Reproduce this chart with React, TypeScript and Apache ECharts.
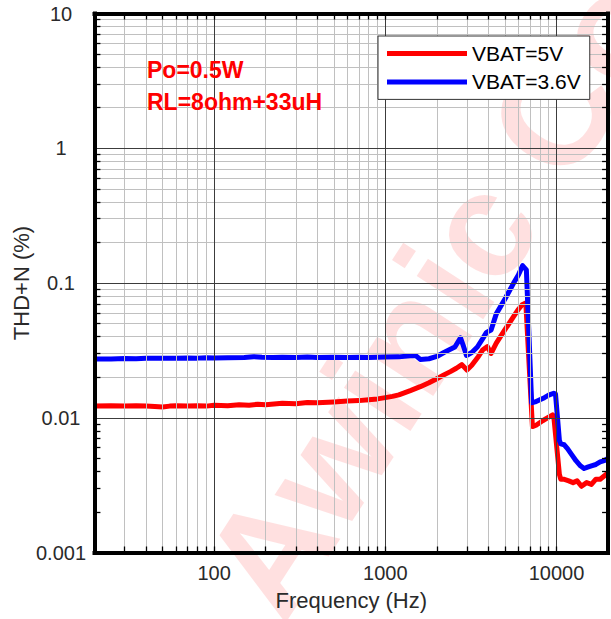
import { useEffect, useRef } from 'react';
import * as echarts from 'echarts';

// THD+N vs frequency, VBAT = 5 V
const freqVbat5 = [
  20, 25, 30, 35, 40, 45, 50, 55, 60, 70, 80, 90, 100, 120, 140, 160, 180, 200, 250, 300, 350, 400,
  500, 600, 700, 800, 900, 1000, 1100, 1200, 1400, 1600, 1800, 2000, 2200, 2400, 2600, 2800, 3000,
  3200, 3500, 3700, 3950, 4150, 4450, 5000, 5600, 6000, 6300, 6620, 7236, 7600, 8300, 9000, 9500,
  9640, 10400, 10600, 11000, 11800, 12500, 13200, 14000, 15000, 16000, 17000, 18000, 19000, 20000,
];
const thdVbat5 = [
  0.0122, 0.0123, 0.0122, 0.0123, 0.0122, 0.0121, 0.012, 0.0122, 0.0123, 0.0122, 0.0123, 0.0122,
  0.0124, 0.0123, 0.0125, 0.0124, 0.0126, 0.0125, 0.0128, 0.0127, 0.013, 0.0129, 0.0131, 0.0133,
  0.0134, 0.0136, 0.0138, 0.0141, 0.0144, 0.0148, 0.0159, 0.017, 0.0182, 0.0195, 0.0208, 0.022,
  0.0233, 0.0248, 0.0226, 0.0245, 0.0285, 0.0318, 0.0337, 0.03, 0.0358, 0.045, 0.056, 0.0639,
  0.069, 0.0712, 0.0086, 0.0088, 0.0095, 0.0101, 0.0105, 0.0103, 0.0038, 0.0035, 0.0035, 0.0034,
  0.0033, 0.0034, 0.0031, 0.0033, 0.0032, 0.0035, 0.0035, 0.0037, 0.0039,
];

// THD+N vs frequency, VBAT = 3.6 V
const freqVbat36 = [
  20, 25, 30, 35, 40, 50, 60, 70, 80, 90, 100, 120, 150, 170, 190, 220, 250, 300, 350, 400, 500,
  600, 700, 800, 900, 1000, 1200, 1400, 1500, 1600, 1800, 2000, 2200, 2350, 2550, 2750, 2850, 2980,
  3200, 3450, 3700, 3900, 4150, 4450, 5000, 5600, 6000, 6335, 6670, 7160, 7500, 8000, 8500, 9000,
  9640, 9870, 10400, 10600, 11100, 11600, 12300, 13000, 13800, 14500, 15200, 16000, 17000, 18000,
  19000, 20000,
];
const thdVbat36 = [
  0.0273, 0.0273, 0.0275, 0.0274, 0.0276, 0.0277, 0.0276, 0.0278, 0.0277, 0.0279, 0.0278, 0.0279,
  0.028, 0.0284, 0.0281, 0.028, 0.0281, 0.028, 0.0282, 0.028, 0.0281, 0.028, 0.0281, 0.028, 0.0281,
  0.0282, 0.0283, 0.0288, 0.029, 0.0271, 0.0274, 0.0285, 0.0305, 0.0318, 0.0335, 0.0392, 0.0345,
  0.029, 0.0305, 0.0335, 0.0385, 0.043, 0.0448, 0.059, 0.076, 0.099, 0.115, 0.1345, 0.125, 0.0129,
  0.0131, 0.0136, 0.0141, 0.0147, 0.0152, 0.015, 0.0068, 0.0064, 0.0063, 0.0059, 0.0053, 0.0048,
  0.0044, 0.0042, 0.0043, 0.0044, 0.0045, 0.0047, 0.0048, 0.005,
];

const seriesNames = ['VBAT=5V', 'VBAT=3.6V'];
const seriesColors = ['#ff0000', '#0000ff'];

const xRange = [20, 20000];
const yRange = [0.001, 10];
const xMajorTicks = [100, 1000, 10000];
const xTickLabels = ['100', '1000', '10000'];
const yMajorTicks = [0.001, 0.01, 0.1, 1, 10];
const yTickLabels = ['0.001', '0.01', '0.1', '1', '10'];
const xMinorGrid = [
  30, 40, 50, 60, 70, 80, 90, 200, 300, 400, 500, 600, 700, 800, 900, 2000, 3000, 4000, 5000, 6000,
  7000, 8000, 9000,
];
const yMinorGrid = [
  0.002, 0.003, 0.004, 0.005, 0.006, 0.007, 0.008, 0.009, 0.02, 0.03, 0.04, 0.05, 0.06, 0.07, 0.08,
  0.09, 0.2, 0.3, 0.4, 0.5, 0.6, 0.7, 0.8, 0.9, 2, 3, 4, 5, 6, 7, 8, 9,
];
const annotations = ['Po=0.5W', 'RL=8ohm+33uH'];
const watermark = 'Awinic Confidential';

const FONT = "'Liberation Sans', Arial, Helvetica, sans-serif";

const zip = (xs: number[], ys: number[]) => xs.map((x, i) => [x, ys[i]]);

const findLabel = (v: number, ticks: number[], labels: string[]) => {
  const i = ticks.findIndex((t) => Math.abs(Math.log10(v) - Math.log10(t)) < 1e-6);
  return i >= 0 ? labels[i] : '';
};

export default function App() {
  const ref = useRef<HTMLDivElement>(null);

  useEffect(() => {
    if (!ref.current) return;
    const chart = echarts.init(ref.current, undefined, { renderer: 'svg' });

    // inward tick marks: ~6 px long in each direction
    const kx = Math.pow(10, 6 / 173);
    const ky = Math.pow(10, 6 / 134.75);
    const xTickMarks = [...xMinorGrid, ...xMajorTicks].flatMap((x) => [
      [{ coord: [x, yRange[0]] }, { coord: [x, yRange[0] * ky] }],
      [{ coord: [x, yRange[1] / ky] }, { coord: [x, yRange[1]] }],
    ]);
    const yTickMarks = [...yMinorGrid].flatMap((y) => [
      [{ coord: [xRange[0], y] }, { coord: [xRange[0] * kx, y] }],
      [{ coord: [xRange[1] / kx, y] }, { coord: [xRange[1], y] }],
    ]);

    const borderLine = { show: true, onZero: false, lineStyle: { color: '#000', width: 4, cap: 'square' } };

    const gridLayer = (name: string, z: number, color: string, width: number, data: any[]) => ({
      name,
      type: 'line',
      data: [],
      z,
      silent: true,
      markLine: {
        silent: true,
        symbol: ['none', 'none'],
        label: { show: false },
        emphasis: { disabled: true },
        animation: false,
        lineStyle: { color, width, type: 'solid' },
        data,
      },
    });

    const option: any = {
      animation: false,
      backgroundColor: '#fff',
      grid: { left: 94.5, top: 13.5, width: 518.7, height: 539, show: false },
      xAxis: [
        {
          type: 'log',
          logBase: 10,
          min: xRange[0],
          max: xRange[1],
          position: 'bottom',
          z: 10,
          axisLine: borderLine,
          axisTick: { show: false },
          splitLine: { show: false },
          axisLabel: {
            formatter: (v: number) => findLabel(v, xMajorTicks, xTickLabels),
            color: '#2a2a2a',
            fontSize: 20,
            fontFamily: FONT,
            margin: 10,
          },
          name: 'Frequency (Hz)',
          nameLocation: 'middle',
          nameGap: 37,
          nameTextStyle: { fontSize: 22, color: '#2a2a2a', fontFamily: FONT },
        },
        {
          type: 'log',
          logBase: 10,
          min: xRange[0],
          max: xRange[1],
          position: 'top',
          z: 10,
          axisLine: borderLine,
          axisTick: { show: false },
          splitLine: { show: false },
          axisLabel: { show: false },
        },
      ],
      yAxis: [
        {
          type: 'log',
          logBase: 10,
          min: yRange[0],
          max: yRange[1],
          position: 'left',
          z: 10,
          axisLine: borderLine,
          axisTick: { show: false },
          splitLine: { show: false },
          axisLabel: {
            formatter: (v: number) => findLabel(v, yMajorTicks, yTickLabels),
            color: '#2a2a2a',
            fontSize: 20,
            fontFamily: FONT,
            align: 'center',
            margin: 33.5,
          },
          name: 'THD+N (%)',
          nameLocation: 'middle',
          nameGap: 62,
          nameMoveOverlap: false,
          nameTextStyle: { fontSize: 22, color: '#2a2a2a', fontFamily: FONT },
        },
        {
          type: 'log',
          logBase: 10,
          min: yRange[0],
          max: yRange[1],
          position: 'right',
          z: 10,
          axisLine: borderLine,
          axisTick: { show: false },
          splitLine: { show: false },
          axisLabel: { show: false },
        },
      ],
      legend: {
        data: seriesNames,
        orient: 'vertical',
        left: 378,
        top: 36,
        padding: [7, 9, 7, 9],
        itemGap: 7.4,
        itemWidth: 80,
        itemHeight: 5,
        icon: 'rect',
        backgroundColor: '#fff',
        borderColor: '#333',
        borderWidth: 1,
        borderRadius: 0,
        textStyle: { fontSize: 21, color: '#000', fontFamily: FONT },
        z: 15,
      },
      graphic: [
        {
          type: 'text',
          x: 240,
          y: 598,
          rotation: (57 * Math.PI) / 180,
          z: 0,
          silent: true,
          style: {
            text: watermark,
            fill: 'rgba(255,0,0,0.12)',
            fontSize: 150,
            fontWeight: 'bold',
            fontFamily: FONT,
            textAlign: 'left',
            textVerticalAlign: 'middle',
          },
        },
        ...annotations.map((t, i) => ({
          type: 'text',
          x: 147,
          y: i === 0 ? 69.5 : 102,
          z: 20,
          style: {
            text: t,
            fill: '#ff0000',
            fontSize: 23,
            fontWeight: 'bold',
            fontFamily: FONT,
            textAlign: 'left',
            textVerticalAlign: 'middle',
          },
        })),
      ],
      series: [
        gridLayer('minor-grid', 1, '#c0c0c0', 1, [
          ...xMinorGrid.map((x) => ({ xAxis: x })),
          ...yMinorGrid.map((y) => ({ yAxis: y })),
        ]),
        gridLayer('major-grid', 2, '#3c3c3c', 1, [
          ...xMajorTicks.map((x) => ({ xAxis: x })),
          ...yMajorTicks.slice(1, -1).map((y) => ({ yAxis: y })),
        ]),
        gridLayer('tick-marks', 2, '#000', 1.3, [...xTickMarks, ...yTickMarks]),
        {
          name: seriesNames[0],
          type: 'line',
          data: zip(freqVbat5, thdVbat5),
          showSymbol: false,
          symbol: 'none',
          z: 3,
          color: seriesColors[0],
          lineStyle: { color: seriesColors[0], width: 5, join: 'round' },
        },
        {
          name: seriesNames[1],
          type: 'line',
          data: zip(freqVbat36, thdVbat36),
          showSymbol: false,
          symbol: 'none',
          z: 4,
          color: seriesColors[1],
          lineStyle: { color: seriesColors[1], width: 5, join: 'round' },
        },
      ],
    };

    chart.setOption(option);
    return () => chart.dispose();
  }, []);

  return (
    <div
      ref={ref}
      style={{ position: 'fixed', left: 0, top: 0, width: 611, height: 619, background: '#fff' }}
    />
  );
}
